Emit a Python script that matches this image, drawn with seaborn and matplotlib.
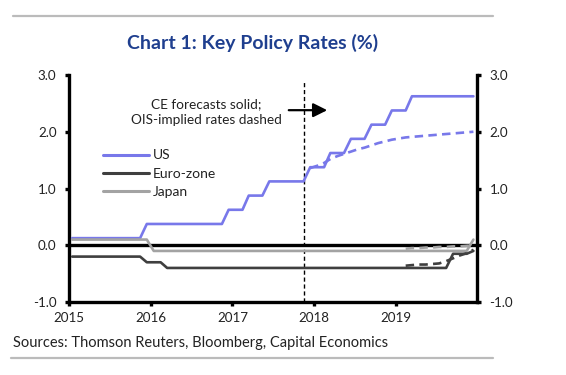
import numpy as np
import pandas as pd
import matplotlib
matplotlib.use("Agg")
import matplotlib.pyplot as plt
import matplotlib.dates as mdates
from matplotlib.lines import Line2D
import seaborn as sns

# ---------------- data ----------------
months = pd.date_range("2015-01-01", periods=60, freq="MS") + pd.Timedelta(days=14)

us_rate = [
    0.125, 0.125, 0.125, 0.125, 0.125, 0.125, 0.125, 0.125, 0.125, 0.125, 0.125, 0.375,  # 2015
    0.375, 0.375, 0.375, 0.375, 0.375, 0.375, 0.375, 0.375, 0.375, 0.375, 0.375, 0.625,  # 2016
    0.625, 0.625, 0.875, 0.875, 0.875, 1.125, 1.125, 1.125, 1.125, 1.125, 1.125, 1.375,  # 2017
    1.375, 1.375, 1.625, 1.625, 1.625, 1.875, 1.875, 1.875, 2.125, 2.125, 2.125, 2.375,  # 2018
    2.375, 2.375, 2.625, 2.625, 2.625, 2.625, 2.625, 2.625, 2.625, 2.625, 2.625, 2.625,  # 2019
]
ez_rate = [
    -0.2, -0.2, -0.2, -0.2, -0.2, -0.2, -0.2, -0.2, -0.2, -0.2, -0.2, -0.3,
    -0.3, -0.3, -0.4, -0.4, -0.4, -0.4, -0.4, -0.4, -0.4, -0.4, -0.4, -0.4,
    -0.4, -0.4, -0.4, -0.4, -0.4, -0.4, -0.4, -0.4, -0.4, -0.4, -0.4, -0.4,
    -0.4, -0.4, -0.4, -0.4, -0.4, -0.4, -0.4, -0.4, -0.4, -0.4, -0.4, -0.4,
    -0.4, -0.4, -0.4, -0.4, -0.4, -0.4, -0.4, -0.4, -0.15, -0.15, -0.15, -0.1,
]
jp_rate = [
    0.1, 0.1, 0.1, 0.1, 0.1, 0.1, 0.1, 0.1, 0.1, 0.1, 0.1, 0.1,
    -0.1, -0.1, -0.1, -0.1, -0.1, -0.1, -0.1, -0.1, -0.1, -0.1, -0.1, -0.1,
    -0.1, -0.1, -0.1, -0.1, -0.1, -0.1, -0.1, -0.1, -0.1, -0.1, -0.1, -0.1,
    -0.1, -0.1, -0.1, -0.1, -0.1, -0.1, -0.1, -0.1, -0.1, -0.1, -0.1, -0.1,
    -0.1, -0.1, -0.1, -0.1, -0.1, -0.1, -0.1, -0.1, -0.1, -0.1, -0.1, 0.1,
]

# OIS-implied paths (dashed)
us_ois_months = months[35:]   # Dec 2017 - Dec 2019
us_ois = [1.36, 1.40, 1.45, 1.52, 1.57, 1.61, 1.65, 1.69, 1.72, 1.76, 1.80, 1.83, 1.86,
          1.88, 1.90, 1.91, 1.92, 1.93, 1.94, 1.95, 1.96, 1.97, 1.98, 1.99, 2.00]
other_ois_months = months[49:]  # Feb 2019 - Dec 2019
ez_ois = [-0.36, -0.35, -0.34, -0.34, -0.33, -0.32, -0.28, -0.23, -0.18, -0.14, -0.08]
jp_ois = [-0.06, -0.05, -0.05, -0.04, -0.04, -0.03, -0.03, -0.02, -0.02, -0.01, 0.0]

series_names = ["US", "Euro-zone", "Japan"]
colors = {"US": "#7878EA", "Euro-zone": "#3F3F3F", "Japan": "#A3A3A3"}
forecast_start = pd.Timestamp("2017-11-15")
year_ticks = ["2015", "2016", "2017", "2018", "2019"]
y_ticks = [-1.0, 0.0, 1.0, 2.0, 3.0]

# ---------------- figure ----------------
sns.set_theme(style="white")
plt.rcParams["font.family"] = ["Lato", "DejaVu Sans"]

fig = plt.figure(figsize=(5.66, 3.75), dpi=100)
ax = fig.add_axes([69 / 566, 1 - 302 / 375, (477 - 69) / 566, (302 - 75) / 375])

solid = pd.DataFrame({
    "date": np.concatenate([months, months, months]),
    "rate": us_rate + ez_rate + jp_rate,
    "Series": ["US"] * 60 + ["Euro-zone"] * 60 + ["Japan"] * 60,
})

ax.axhline(0, color="black", lw=2.4, zorder=1.5)

sns.lineplot(data=solid, x="date", y="rate", hue="Series", hue_order=series_names,
             palette=colors, linewidth=1.9, estimator=None, ax=ax, zorder=3)

sns.lineplot(x=us_ois_months, y=us_ois, color=colors["US"], linewidth=1.9,
             linestyle=(0, (3.2, 2.0)), ax=ax, legend=False, zorder=3)
sns.lineplot(x=other_ois_months, y=ez_ois, color=colors["Euro-zone"], linewidth=1.9,
             linestyle=(0, (3.2, 2.0)), ax=ax, legend=False, zorder=3)
sns.lineplot(x=other_ois_months, y=jp_ois, color=colors["Japan"], linewidth=1.9,
             linestyle=(0, (3.2, 2.0)), ax=ax, legend=False, zorder=3)

ax.axvline(forecast_start, ymin=0, ymax=0.97, color="black", lw=1.0,
           linestyle=(0, (3, 2)), zorder=2)

ax.annotate("", xy=(mdates.date2num(pd.Timestamp("2018-03-01")), 2.38),
            xytext=(mdates.date2num(pd.Timestamp("2017-09-10")), 2.38),
            arrowprops=dict(arrowstyle="-|>", color="black", lw=1.6, mutation_scale=21,
                            shrinkA=0, shrinkB=0))
ax.text(mdates.date2num(pd.Timestamp("2016-09-08")), 2.35,
        "CE forecasts solid;\nOIS-implied rates dashed",
        ha="center", va="center", fontsize=9.8, linespacing=1.35, color="#222222")

# axes
ax.set_xlim(pd.Timestamp("2015-01-01"), pd.Timestamp("2019-12-31"))
ax.set_ylim(-1, 3)
ax.set_yticks(y_ticks)
ax.set_yticklabels([f"{v:.1f}" for v in y_ticks])
ax.set_xticks([pd.Timestamp(f"{y}-01-01") for y in year_ticks])
ax.set_xticklabels(year_ticks)
ax.set_xlabel("")
ax.set_ylabel("")

for side in ["left", "right", "bottom"]:
    ax.spines[side].set_visible(True)
    ax.spines[side].set_color("black")
    ax.spines[side].set_linewidth(2.4)
ax.spines["top"].set_visible(False)

ax.tick_params(axis="y", direction="out", length=3, width=2.4, left=True, right=True,
               labelleft=True, labelright=True, labelsize=9.6, pad=6,
               labelcolor="#222222", color="black")
ax.tick_params(axis="x", direction="out", length=3, width=2.4, bottom=True,
               labelsize=9.6, pad=4.5, labelcolor="#222222", color="black")

leg = ax.legend(loc="upper left", bbox_to_anchor=(0.083, 0.672), frameon=False,
                handlelength=3.3, handletextpad=0.3, labelspacing=0.44,
                borderpad=0, borderaxespad=0, fontsize=10)
for t in leg.get_texts():
    t.set_color("#222222")
for h in leg.get_lines():
    h.set_linewidth(2.2)

# title, source, rules
fig.text(253 / 566, 1 - 43 / 375, "Chart 1: Key Policy Rates (%)", ha="center", va="center",
         fontsize=14, fontweight="bold", color="#1F3F8F")
fig.text(13 / 566, 1 - 343 / 375, "Sources: Thomson Reuters, Bloomberg, Capital Economics",
         ha="left", va="center", fontsize=10.5, color="#222222")
fig.add_artist(Line2D([13 / 566, 493 / 566], [1 - 16 / 375] * 2, color="#BBBBBB", lw=1.6))
fig.add_artist(Line2D([11 / 566, 493 / 566], [1 - 358 / 375] * 2, color="#BBBBBB", lw=1.6))

fig.savefig("out.png", dpi=100)
